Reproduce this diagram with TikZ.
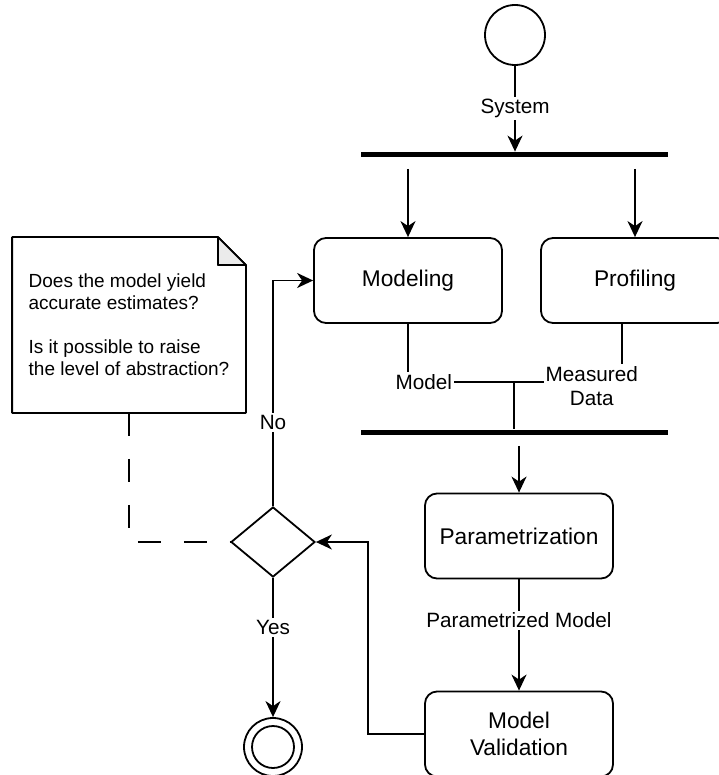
\documentclass[tikz,border=0pt]{standalone}
\usepackage{fontspec}
\setmainfont{Liberation Sans}
\usetikzlibrary{arrows.meta,shapes.geometric}
\definecolor{foldgray}{RGB}{235,235,235}

\begin{document}
\begin{tikzpicture}[x=1pt,y=-1pt,line width=1.8pt,
    >={Stealth[length=16pt,width=15pt,inset=5pt]},
    act/.style={draw,rounded corners=12pt,minimum width=188pt,minimum height=85pt,
        font=\fontsize{22.7}{27.2}\selectfont,align=center},
    bar/.style={fill=black,minimum width=307pt,minimum height=5pt,inner sep=0pt},
    lbl/.style={fill=white,inner sep=2pt,font=\fontsize{20.7}{24.8}\selectfont,align=center}]
    \useasboundingbox (0,0) rectangle (718,775);

    \node[draw,circle,minimum size=60pt,inner sep=0pt] (start) at (515,35) {};
    \node[bar] (fork) at (514.5,155) {};
    \node[act] (modeling) at (408,280.5) {Modeling};
    \node[act] (profiling) at (635,280.5) {Profiling};
    \node[bar] (join) at (514.5,432) {};
    \node[act] (param) at (519,536) {Parametrization};
    \node[act] (valid) at (519,734) {Model\\Validation};
    \node[draw,diamond,minimum width=84pt,minimum height=70pt,inner sep=0pt]
        (decision) at (273,542) {};
    \node[draw,circle,minimum size=58pt,inner sep=0pt] (final) at (273,747) {};
    \draw (final.center) circle[radius=21pt];

    % note with folded corner
    \node[font=\fontsize{19}{22}\selectfont,align=left,minimum width=232pt,
        minimum height=174pt,inner sep=0pt] (note) at (129,325)
        {Does the model yield\\accurate estimates?\\[22pt]Is it possible to raise\\the level of abstraction?};
    \draw[line join=round] (note.south west) -- (note.north west) -- ([xshift=-28pt]note.north east)
        -- ([yshift=-28pt]note.north east) -- (note.south east) -- cycle;
    \draw[fill=foldgray,line join=round] ([xshift=-28pt]note.north east)
        -- ([xshift=-28pt,yshift=-28pt]note.north east) -- ([yshift=-28pt]note.north east) -- cycle;

    \draw[->] (start) -- (start |- fork.north) node[lbl,midway] {System};
    \draw[->,shorten <=10.5pt] (fork.south -| modeling.north) -- (modeling.north);
    \draw[->,shorten <=10.5pt] (fork.south -| profiling.north) -- (profiling.north);

    \coordinate (merge) at (514,382);
    \draw (modeling.south) |- (merge) node[lbl,pos=0.574] {Model};
    \draw ([xshift=-13pt]profiling.south) |- (merge)
        node[lbl,pos=0.64,yshift=-4pt] {Measured\\Data};
    \draw (merge) -- (merge |- join.north);

    \draw[->,shorten <=10.5pt] (join.south -| param.north) -- (param.north);
    \draw[->] (param) -- (valid) node[lbl,pos=0.37] {Parametrized Model};
    \draw[->] (valid.west) -- ++(-56,0) |- (decision.east);
    \draw[->] (decision.north) |- (modeling.west) node[lbl,pos=0.185] {No};
    \draw[->] (decision.south) -- (final.north) node[lbl,pos=0.357] {Yes};
    \draw[dash pattern=on 23pt off 23pt] (note.south) |- (decision.west);
\end{tikzpicture}
\end{document}
